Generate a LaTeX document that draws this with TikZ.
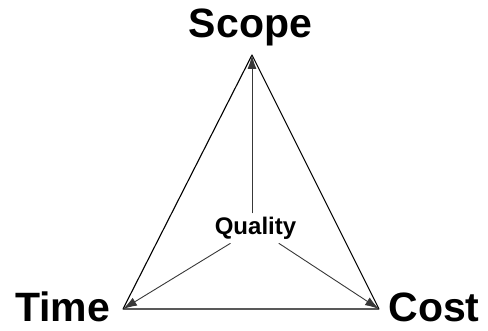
\documentclass[tikz,border=0pt]{standalone}
\usepackage{fontspec}
\setmainfont{Liberation Sans}
\usetikzlibrary{arrows.meta}
\definecolor{linegray}{HTML}{383838}
\tikzset{
  every picture/.style={line join=round, line cap=round, >={Latex[length=14pt,width=9pt]}},
  corner/.style={font=\bfseries\fontsize{41}{41}\selectfont, anchor=base, inner sep=0pt},
  middle/.style={font=\bfseries\fontsize{24}{24}\selectfont, inner sep=4pt},
  edge/.style={line width=1.1pt},
  spoke/.style={->, linegray, line width=0.9pt},
}

\begin{document}
\begin{tikzpicture}[x=1pt,y=-1pt]
\useasboundingbox (0,0) rectangle (488,331);
\coordinate (top) at (252,55);
\coordinate (left) at (123,309);
\coordinate (right) at (379,309);
\draw[edge] (top) -- (left) -- (right) -- cycle;
\node[corner] (scope) at (250.5,38) {Scope};
\node[corner] (time) at (62.5,322) {Time};
\node[corner] (cost) at (434,322) {Cost};
\node[middle] (quality) at (255.5,228) {Quality};
\draw[spoke] (quality.north -| top) -- (top);
\draw[spoke] (quality) -- (left);
\draw[spoke] (quality) -- (right);
\end{tikzpicture}
\end{document}
